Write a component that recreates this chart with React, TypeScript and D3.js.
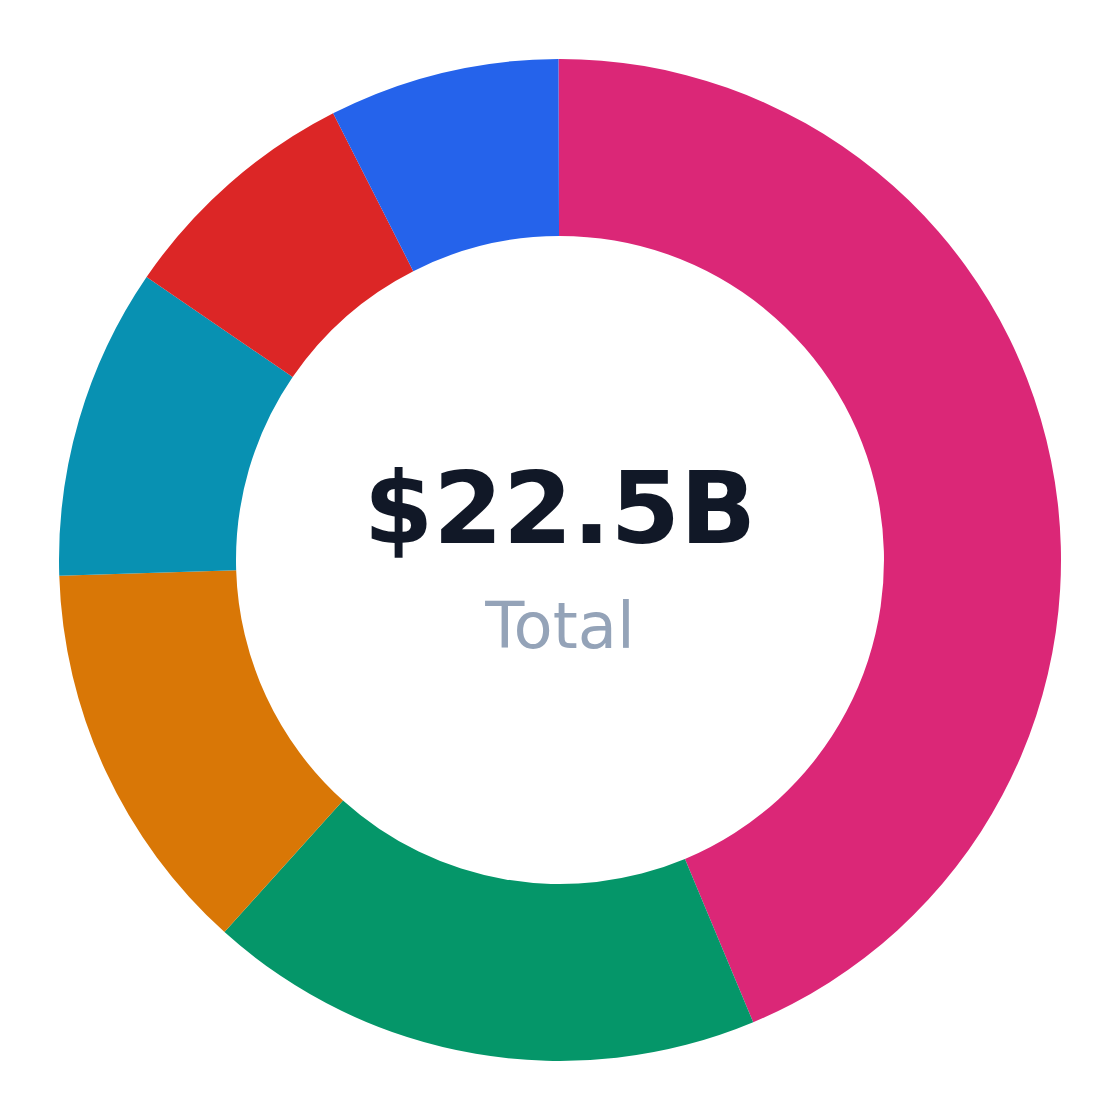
import React from "react";
import * as d3 from "d3";

const categories = ["Segment A", "Segment B", "Segment C", "Segment D", "Segment E", "Segment F"];
const values = [9.83, 4.04, 2.88, 2.26, 1.79, 1.67];
const colors = ["#db2777", "#059669", "#d97706", "#0891b2", "#dc2626", "#2563eb"];
const totalLabel = "$22.5B";
const subLabel = "Total";

export default function App() {
  const W = 1120;
  const H = 1120;
  const cx = 560;
  const cy = 560;
  const outerR = 501;
  const innerR = 324;

  const data = categories.map((c, i) => ({ name: c, value: values[i], color: colors[i] }));
  const pie = d3.pie<any>().sort(null).value((d: any) => d.value).startAngle(-0.003).endAngle(2 * Math.PI - 0.003);
  const arc = d3.arc<any>().innerRadius(innerR).outerRadius(outerR);
  const arcs = pie(data);

  return (
    <svg width={W} height={H} style={{ position: "absolute", left: 0, top: 0, background: "#fff" }}>
      <g transform={`translate(${cx},${cy})`}>
        {arcs.map((a, i) => (
          <path key={i} d={arc(a) as string} fill={a.data.color} />
        ))}
        <text
          x={0}
          y={-17}
          textAnchor="middle"
          fontFamily="DejaVu Sans"
          fontWeight="bold"
          fontSize={100}
          fill="#111827"
        >
          {totalLabel}
        </text>
        <text x={0} y={88} textAnchor="middle" fontFamily="DejaVu Sans" fontSize={64} fill="#94a3b8">
          {subLabel}
        </text>
      </g>
    </svg>
  );
}
